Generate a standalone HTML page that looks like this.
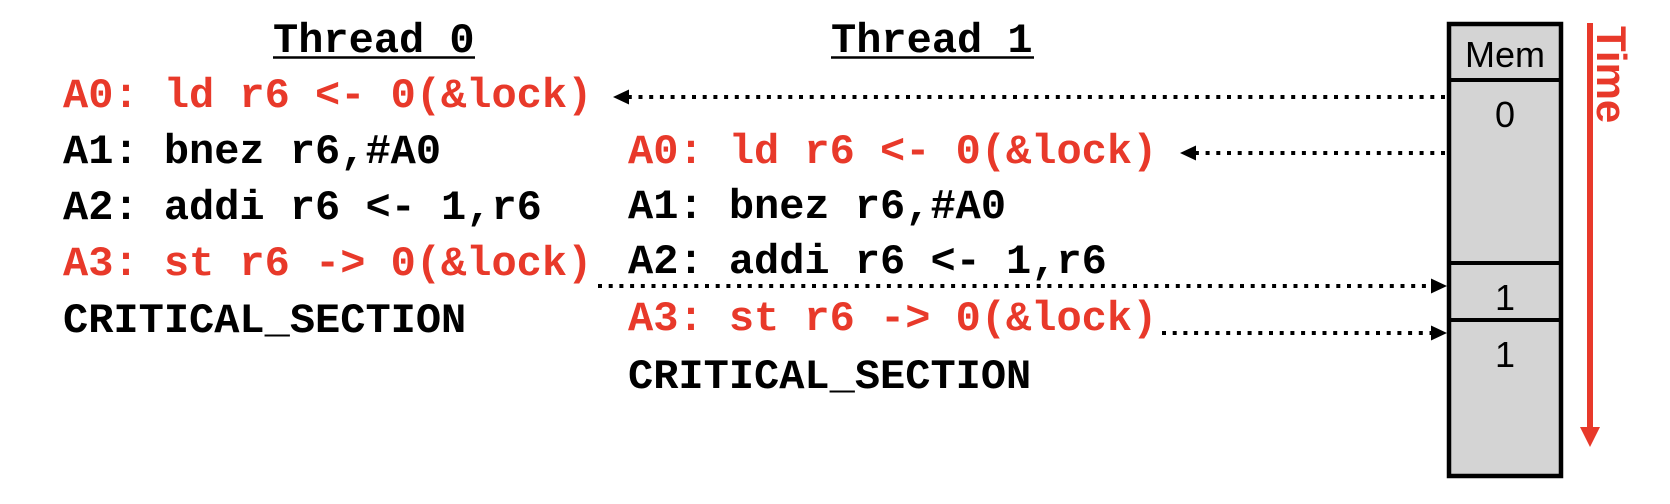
<!DOCTYPE html>
<html><head><meta charset="utf-8"><style>
html,body{margin:0;padding:0;background:#fff;}
svg{display:block;}
.m{font-family:"Liberation Mono",monospace;font-weight:bold;font-size:42px;}
.r{fill:#e8392a;}
.k{fill:#000;}
.s{font-family:"Liberation Sans",sans-serif;font-size:36px;fill:#000;}
</style></head><body>
<svg width="1670" height="504" viewBox="0 0 1670 504" xmlns="http://www.w3.org/2000/svg">
<text class="m k" x="273" y="52">Thread 0</text>
<line x1="273" y1="57.5" x2="475" y2="57.5" stroke="#000" stroke-width="2.5"/>
<text class="m k" x="831" y="52">Thread 1</text>
<line x1="831" y1="57.5" x2="1034" y2="57.5" stroke="#000" stroke-width="2.5"/>
<text class="m r" x="63" y="107">A0: ld r6 &lt;- 0(&amp;lock)</text>
<text class="m k" x="63" y="163">A1: bnez r6,#A0</text>
<text class="m k" x="63" y="219">A2: addi r6 &lt;- 1,r6</text>
<text class="m r" x="63" y="275">A3: st r6 -&gt; 0(&amp;lock)</text>
<text class="m k" x="63" y="332">CRITICAL_SECTION</text>
<text class="m r" x="628" y="163">A0: ld r6 &lt;- 0(&amp;lock)</text>
<text class="m k" x="628" y="218">A1: bnez r6,#A0</text>
<text class="m k" x="628" y="273">A2: addi r6 &lt;- 1,r6</text>
<text class="m r" x="628" y="330">A3: st r6 -&gt; 0(&amp;lock)</text>
<text class="m k" x="628" y="388">CRITICAL_SECTION</text>
<g stroke="#000" stroke-width="4" stroke-dasharray="4 6.7">
<line x1="1445" y1="97" x2="628" y2="97"/>
<line x1="1445" y1="153" x2="1195" y2="153"/>
<line x1="598" y1="286" x2="1432" y2="286"/>
<line x1="1162" y1="333" x2="1432" y2="333"/>
</g>
<g fill="#000">
<polygon points="613,97 629,89.5 629,104.5"/>
<polygon points="1180,153 1196,145.5 1196,160.5"/>
<polygon points="1447,286 1431,278.5 1431,293.5"/>
<polygon points="1447,333 1431,325.5 1431,340.5"/>
</g>
<rect x="1449" y="24" width="112" height="452" fill="#d4d4d4" stroke="#000" stroke-width="4.5"/>
<line x1="1449" y1="80" x2="1561" y2="80" stroke="#000" stroke-width="4"/>
<line x1="1449" y1="263" x2="1561" y2="263" stroke="#000" stroke-width="4"/>
<line x1="1449" y1="320" x2="1561" y2="320" stroke="#000" stroke-width="4"/>
<text class="s" x="1505" y="67" text-anchor="middle">Mem</text>
<text class="s" x="1505" y="127" text-anchor="middle">0</text>
<text class="s" x="1505" y="310" text-anchor="middle">1</text>
<text class="s" x="1505" y="367" text-anchor="middle">1</text>
<line x1="1590" y1="23" x2="1590" y2="430" stroke="#e8392a" stroke-width="6"/>
<polygon points="1580,427 1600,427 1590,447" fill="#e8392a"/>
<text x="1597" y="26" transform="rotate(90 1597 26)" font-family="Liberation Sans, sans-serif" font-weight="bold" font-size="42" fill="#e8392a">Time</text>
</svg>
</body></html>
